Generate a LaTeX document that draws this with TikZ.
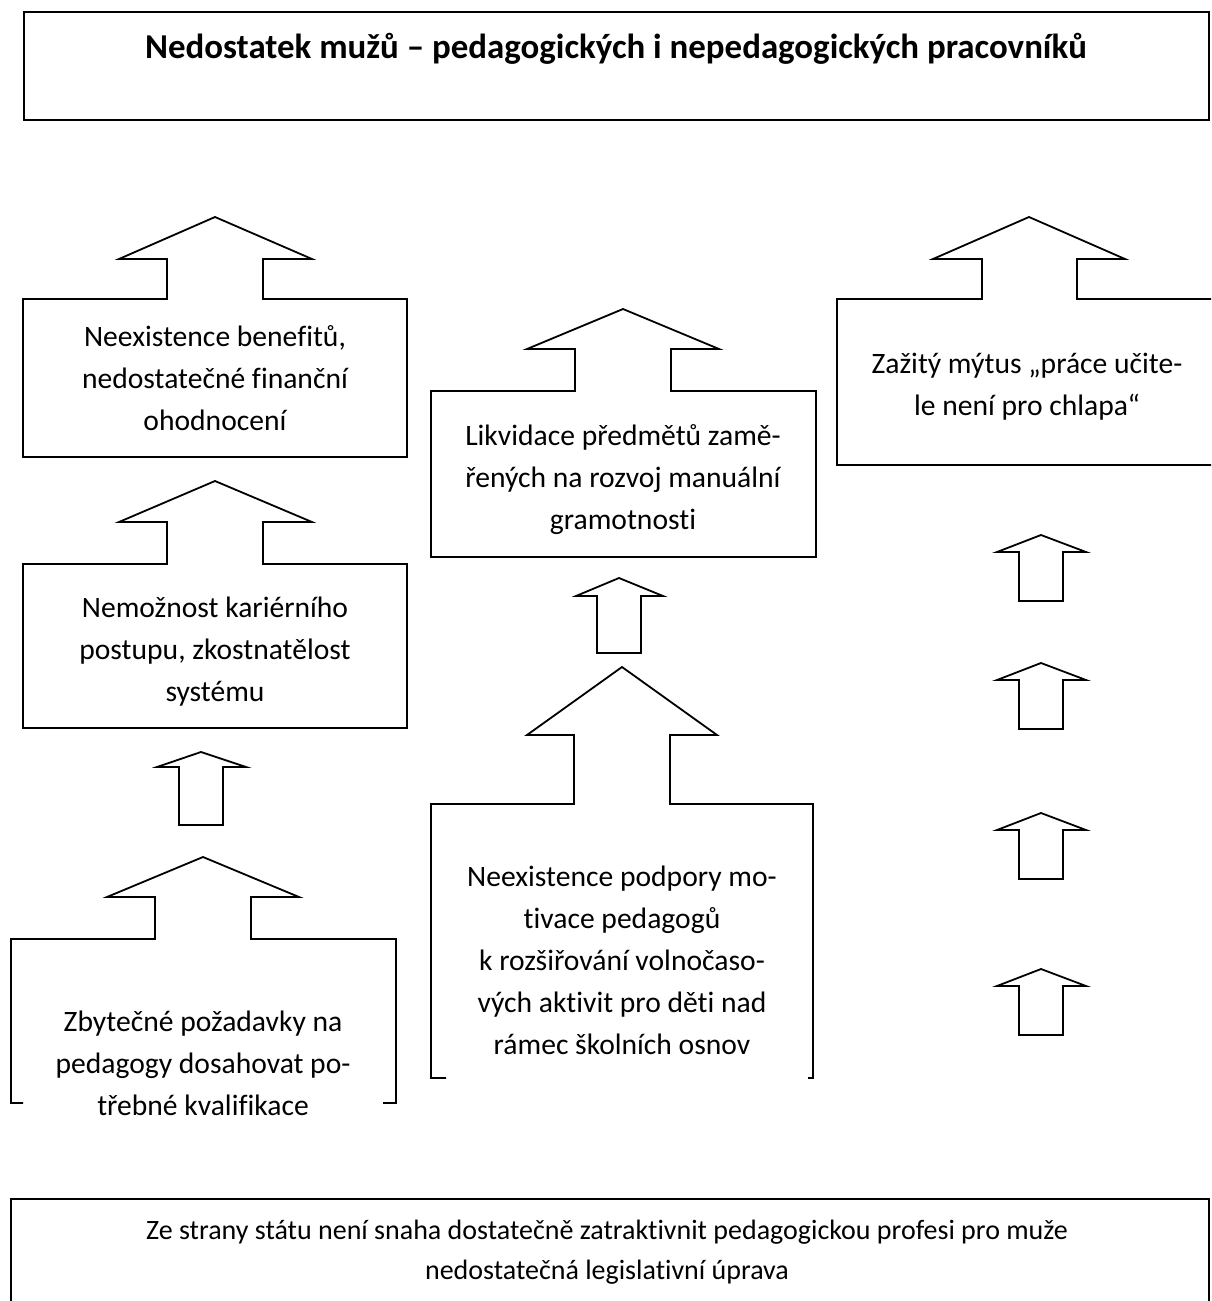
\documentclass[tikz,border=0pt]{standalone}
\usepackage{fontspec}
\setmainfont[Ligatures={NoCommon}]{Carlito}
\begin{document}
\begin{tikzpicture}[x=1pt,y=-1pt,line join=miter]
\tikzset{
  outl/.style={draw=black,line width=1.8pt},
  frame/.style={draw=black,line width=2.2pt},
  txt/.style={align=center,inner sep=0pt,font=\fontsize{29.6}{42}\selectfont},
  ttl/.style={align=center,inner sep=0pt,font=\fontsize{34.9}{42}\selectfont\bfseries},
  btxt/.style={align=center,inner sep=0pt,font=\fontsize{28}{40}\selectfont},
}
\useasboundingbox (0,0) rectangle (1211,1301);
\clip (0,0) rectangle (1211,1301);

% top and bottom frames
\draw[frame] (24,12) rectangle (1209,120);
\draw[frame] (11,1199) rectangle (1209,1320);

% left column
\draw[outl] (23,457) -- (23,299) -- (167,299) -- (167,259) -- (119,259) -- (215,217) -- (312,259) -- (263,259) -- (263,299) -- (407,299) -- (407,457) -- cycle;
\draw[outl] (23,728) -- (23,564) -- (167,564) -- (167,522) -- (119,522) -- (215,481) -- (312,522) -- (263,522) -- (263,564) -- (407,564) -- (407,728) -- cycle;
\draw[outl] (179,825) -- (179,767) -- (157,767) -- (201,752) -- (246,767) -- (223,767) -- (223,825) -- cycle;
\draw[outl] (23,1103) -- (11,1103) -- (11,939) -- (155,939) -- (155,897) -- (107,897) -- (203,857) -- (299,897) -- (251,897) -- (251,939) -- (396,939) -- (396,1103) -- (383,1103);

% middle column
\draw[outl] (431,557) -- (431,391) -- (575,391) -- (575,349) -- (527,349) -- (623,309) -- (719,349) -- (671,349) -- (671,391) -- (816,391) -- (816,557) -- cycle;
\draw[outl] (597,653) -- (597,596) -- (576,596) -- (619,578) -- (663,596) -- (641,596) -- (641,653) -- cycle;
\draw[outl] (446,1078) -- (431,1078) -- (431,804) -- (574,804) -- (574,735) -- (527,735) -- (622,667) -- (717,735) -- (670,735) -- (670,804) -- (813,804) -- (813,1078) -- (808,1078);

% right column
\draw[outl] (837,465) -- (837,299) -- (982,299) -- (982,259) -- (933,259) -- (1029,217) -- (1125,259) -- (1077,259) -- (1077,299) -- (1216,299) -- (1216,465) -- cycle;
\foreach \t/\w/\b in {535/552/601, 663/680/729, 813/830/879, 969/986/1035}{
  \draw[outl] (1019,\b) -- (1019,\w) -- (997,\w) -- (1041,\t) -- (1086,\w) -- (1063,\w) -- (1063,\b) -- cycle;
}

% texts
\node[ttl] (title) at (616,49) {Nedostatek mužů – pedagogických i nepedagogických pracovníků};
\node[txt] (benefity) at (215,378) {Neexistence benefitů,\\nedostatečné finanční\\ohodnocení};
\node[txt] (kariera) at (215,652) {Nemožnost kariérního\\postupu, zkostnatělost\\systému};
\node[txt] (pozadavky) at (203,1063) {Zbytečné požadavky na\\pedagogy dosahovat po-\\třebné kvalifikace};
\node[txt] (predmety) at (623,480) {Likvidace předmětů zamě-\\řených na rozvoj manuální\\gramotnosti};
\node[txt] (podpora) at (622,960) {Neexistence podpory mo-\\tivace pedagogů\\k rozšiřování volnočaso-\\vých aktivit pro děti nad\\rámec školních osnov};
\node[txt] (mytus) at (1027,387) {Zažitý mýtus „práce učite-\\le není pro chlapa“};
\node[btxt] (stat) at (607,1252) {Ze strany státu není snaha dostatečně zatraktivnit pedagogickou profesi pro muže\\nedostatečná legislativní úprava};
\end{tikzpicture}
\end{document}
